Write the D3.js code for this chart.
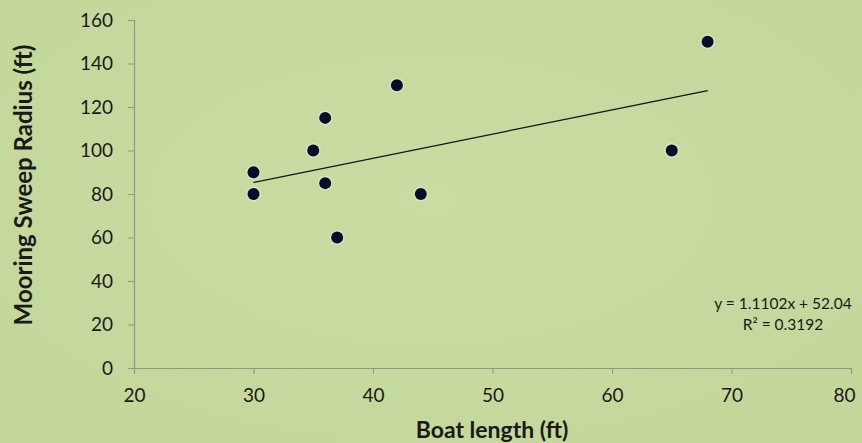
<!DOCTYPE html>
<html>
<head>
<meta charset="utf-8">
<script src="https://cdn.jsdelivr.net/npm/d3@7"></script>
<style>
  body { margin: 0; background: #c6da9e; overflow: hidden; }
  svg { display: block; }
  text { font-family: Lato, 'Open Sans', sans-serif; fill: #1a1a1a; }
</style>
</head>
<body>
<svg width="862" height="443"></svg>
<script>
const boatLength = [30, 30, 35, 36, 36, 37, 42, 44, 65, 68];
const sweepRadius = [80, 90, 100, 115, 85, 60, 130, 80, 100, 150];
const xTicks = [20, 30, 40, 50, 60, 70, 80];
const yTicks = [0, 20, 40, 60, 80, 100, 120, 140, 160];
const slope = 1.1102;
const intercept = 52.04;
const equationLines = ['y = 1.1102x + 52.04', 'R\u00b2 = 0.3192'];

const svg = d3.select('svg');
const margin = { top: 20, right: 11, bottom: 75, left: 134 };
const width = 862, height = 443;
const innerWidth = width - margin.left - margin.right;
const innerHeight = height - margin.top - margin.bottom;

const defs = svg.append('defs');
const grad = defs.append('radialGradient').attr('id', 'bg')
  .attr('cx', '50%').attr('cy', '45%').attr('r', '70%');
grad.append('stop').attr('offset', '0%').attr('stop-color', '#c9dca2');
grad.append('stop').attr('offset', '100%').attr('stop-color', '#c3d79b');
svg.append('rect').attr('width', width).attr('height', height).attr('fill', 'url(#bg)');

const g = svg.append('g').attr('transform', `translate(${margin.left},${margin.top})`);

const xScale = d3.scaleLinear().domain([20, 80]).range([0, innerWidth]);
const yScale = d3.scaleLinear().domain([0, 160]).range([innerHeight, 0]);

// axes
const xAxisG = g.append('g')
  .attr('transform', `translate(0,${innerHeight})`)
  .call(d3.axisBottom(xScale).tickValues(xTicks).tickSize(6).tickPadding(15).tickFormat(d3.format('d')));
const yAxisG = g.append('g')
  .call(d3.axisLeft(yScale).tickValues(yTicks).tickSize(6).tickPadding(15).tickFormat(d3.format('d')));

[xAxisG, yAxisG].forEach(a => {
  a.select('.domain').attr('stroke', '#8c9a86').attr('stroke-width', 1.2);
  a.selectAll('.tick line').attr('stroke', '#8c9a86');
  a.selectAll('.tick text').attr('font-size', 19).attr('fill', '#1a1a1a')
    .attr('font-family', 'Lato, sans-serif');
});
// last x label sits a bit inward so it stays on the page
xAxisG.selectAll('.tick text').filter(d => d === 80).attr('dx', -7);

// trendline
const xr = d3.extent(boatLength);
g.append('line')
  .attr('x1', xScale(xr[0])).attr('y1', yScale(slope * xr[0] + intercept))
  .attr('x2', xScale(xr[1])).attr('y2', yScale(slope * xr[1] + intercept))
  .attr('stroke', '#111').attr('stroke-width', 1.2);

// points
const pts = boatLength.map((x, i) => ({ x, y: sweepRadius[i] }));
g.selectAll('circle.halo').data(pts).enter().append('circle')
  .attr('class', 'halo')
  .attr('cx', d => xScale(d.x)).attr('cy', d => yScale(d.y))
  .attr('r', 7.5).attr('fill', '#dfe8d2').attr('opacity', 0.7);
g.selectAll('circle.pt').data(pts).enter().append('circle')
  .attr('class', 'pt')
  .attr('cx', d => xScale(d.x)).attr('cy', d => yScale(d.y))
  .attr('r', 6).attr('fill', '#0b0b2a');

// equation
g.selectAll('text.eq').data(equationLines).enter().append('text')
  .attr('class', 'eq')
  .attr('x', 783 - margin.left)
  .attr('y', (d, i) => 309 - margin.top + i * 21)
  .attr('text-anchor', 'middle')
  .attr('font-size', 15.5)
  .text(d => d);

// axis titles
svg.append('text')
  .attr('x', 492).attr('y', 438)
  .attr('text-anchor', 'middle')
  .attr('font-size', 23).attr('font-weight', 'bold')
  .text('Boat length (ft)');
svg.append('text')
  .attr('transform', 'translate(32,185) rotate(-90)')
  .attr('text-anchor', 'middle')
  .attr('font-size', 24).attr('font-weight', 'bold')
  .text('Mooring Sweep Radius (ft)');
</script>
</body>
</html>
